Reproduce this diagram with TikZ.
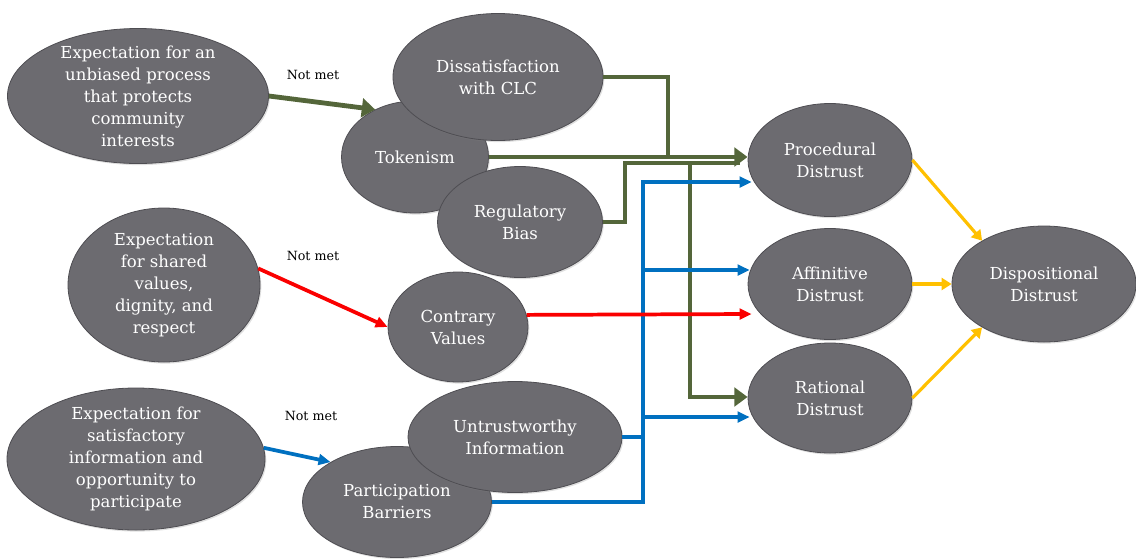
\documentclass[tikz,border=0pt]{standalone}
\usepackage{fontspec}
\setmainfont{DejaVu Serif}
\usepackage{xcolor}
\usepackage{tikz}
\usetikzlibrary{
    arrows.meta,
    positioning,
    shapes.geometric,
    shadows,
    calc
}

\definecolor{blobgray}{RGB}{108,107,112}
\definecolor{blobedge}{RGB}{78,77,82}
\definecolor{leafgreen}{RGB}{84,102,58}
\definecolor{linkblue}{RGB}{0,112,192}
\definecolor{linkred}{RGB}{250,0,0}
\definecolor{linkgold}{RGB}{255,192,0}

\begin{document}
\begin{tikzpicture}[
        x=0.75pt, y=-0.75pt,
        blob/.style={
            ellipse,
            draw=blobedge,
            fill=blobgray,
            line width=0.6pt,
            inner sep=0pt,
            drop shadow={opacity=0.25, shadow xshift=1pt, shadow yshift=-1.2pt}
        },
        sz/.style 2 args={
            minimum width=#1*0.75pt,
            minimum height=#2*0.75pt
        },
        etxt/.style={
            text=white,
            align=center,
            font=\fontsize{12.4}{16.5}\selectfont
        },
        note/.style={
            font=\fontsize{9.5}{11}\selectfont
        },
        grnline/.style={
            draw=leafgreen,
            line width=3.6pt
        },
        grn/.style={
            grnline,
            -{Triangle[length=10pt, width=14pt]}
        },
        bluline/.style={
            draw=linkblue,
            line width=2.8pt
        },
        blu/.style={
            bluline,
            -{Triangle[length=9pt, width=8pt]}
        },
        rd/.style={
            draw=linkred,
            line width=2.8pt,
            -{Triangle[length=9pt, width=8pt]}
        },
        gld/.style={
            draw=linkgold,
            line width=2.4pt,
            -{Triangle[length=7.5pt, width=9pt]}
        }
    ]

    \useasboundingbox (0,0) rectangle (1136,558);

    % expectations
    \node[blob, sz={261}{135},
        label={[etxt]center:Expectation for an\\unbiased process\\that protects\\community\\interests}]
        (exp1) at (138,96) {};
    \node[blob, sz={192}{154},
        label={[etxt]center:Expectation\\for shared\\values,\\dignity, and\\respect}]
        (exp2) at (164,285) {};
    \node[blob, sz={258}{142},
        label={[etxt]center:Expectation for\\satisfactory\\information and\\opportunity to\\participate}]
        (exp3) at (136,459) {};

    % what happens when they are not met
    \node[blob, sz={147}{112}, label={[etxt]center:Tokenism}]
        (token) at (415,157) {};
    \node[blob, sz={210}{127}, label={[etxt]center:Dissatisfaction\\with CLC}]
        (dissat) at (498,77) {};
    \node[blob, sz={165}{111}, label={[etxt]center:Regulatory\\Bias}]
        (regbias) at (520,222) {};
    \node[blob, sz={140}{110}, label={[etxt]center:Contrary\\Values}]
        (contrary) at (458,327) {};
    \node[blob, sz={189}{111}, label={[etxt]center:Participation\\Barriers}]
        (barriers) at (397,502) {};
    \node[blob, sz={214}{111}, label={[etxt]center:Untrustworthy\\Information}]
        (untrust) at (515,437) {};

    % kinds of distrust
    \node[blob, sz={164}{113}, label={[etxt]center:Procedural\\Distrust}]
        (proc) at (830,160) {};
    \node[blob, sz={164}{111}, label={[etxt]center:Affinitive\\Distrust}]
        (affin) at (830,284) {};
    \node[blob, sz={164}{110}, label={[etxt]center:Rational\\Distrust}]
        (rational) at (830,398) {};
    \node[blob, sz={184}{116}, label={[etxt]center:Dispositional\\Distrust}]
        (disp) at (1044,284) {};

    \node[note] (notmet1) at (313,75) {Not met};
    \node[note] (notmet2) at (313,256) {Not met};
    \node[note] (notmet3) at (311,416) {Not met};

    \coordinate (gjoin) at (668,157);
    \coordinate (rjoin) at (625,163);
    \coordinate (gdrop) at (690,163);
    \coordinate (btop) at (643,182);

    % not met
    \draw[grn] (exp1.east) -- (token.130);
    \draw[rd] (exp2.10) -- (contrary.west);
    \draw[blu] (exp3.5) -- (barriers.149);

    % green routes
    \draw[grnline] (dissat.east) -| (gjoin);
    \draw[grnline] (regbias.east) -| (rjoin)
        -- ($(rjoin -| proc.west)+(-8,0)$);
    \draw[grn] (token.east) -- (token.east -| proc.west);
    \draw[grn] (gdrop) |- ($(rational.west)+(0,-1)$);

    % blue routes
    \draw[blu] (barriers.east) -| (btop)
        -- ($(btop -| proc.west)+(4,0)$);
    \draw[bluline] (untrust.east) -- (untrust.east -| btop);
    \draw[blu] ($(btop)+(0,88)$) -- ($(affin.west)+(2,-14)$);
    \draw[blu] ($(btop)+(0,235)$) -- ($(rational.west)+(2,19)$);

    % red route
    \draw[rd] (contrary.10) -- ($(affin.west)+(4,30)$);

    % towards dispositional distrust
    \draw[gld] (proc.east) -- (disp.145);
    \draw[gld] (affin.east) -- (disp.west);
    \draw[gld] (rational.east) -- (disp.215);

\end{tikzpicture}
\end{document}
